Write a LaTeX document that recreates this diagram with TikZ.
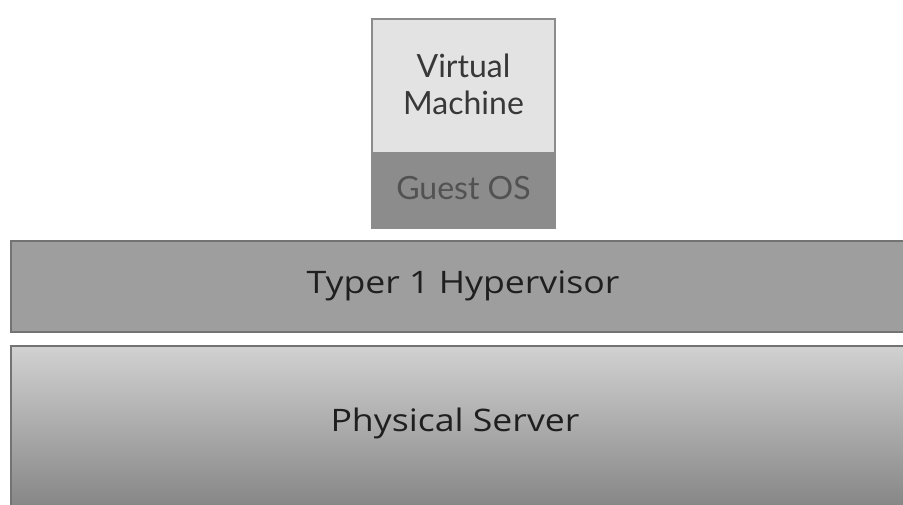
\documentclass[tikz,border=0pt]{standalone}
\usepackage{fontspec}
\setmainfont{Open Sans}
\newfontfamily\vmfont{Lato}
\newcommand\widetext[1]{\scalebox{1.15}[1]{#1}}
\begin{document}
\begin{tikzpicture}[x=1pt,y=-1pt,
  layer/.style={draw=black!55,line width=1.6pt},
  vmtext/.style={font=\vmfont\fontsize{32}{37}\selectfont,text=black!78,align=center},
  bartext/.style={font=\fontsize{31}{36}\selectfont,text=black!88}]
  \useasboundingbox (0,0) rectangle (903,504);
  % virtual machine stack
  \path[layer,fill=black!11,draw=black!45] (372,19) rectangle (555,153);
  \path[layer,fill=black!45,draw=black!45] (372,153) rectangle (555,228);
  \node[vmtext] (vm) at (463.5,84) {Virtual\\Machine};
  \node[vmtext,text=black!68] (guest) at (463.5,188) {Guest OS};
  % hypervisor layer
  \path[layer,fill=black!38] (11,241) rectangle (910,332);
  \node[bartext] (hyp) at (463,286) {\widetext{Typer 1 Hypervisor}};
  % physical server with vertical shading
  \shade[top color=black!18,bottom color=black!48] (11,346) rectangle (910,510);
  \draw[black!55,line width=1.6pt] (910,346) -- (11,346) -- (11,510);
  \node[bartext] (phys) at (455,423) {\widetext{Physical Server}};
\end{tikzpicture}
\end{document}
